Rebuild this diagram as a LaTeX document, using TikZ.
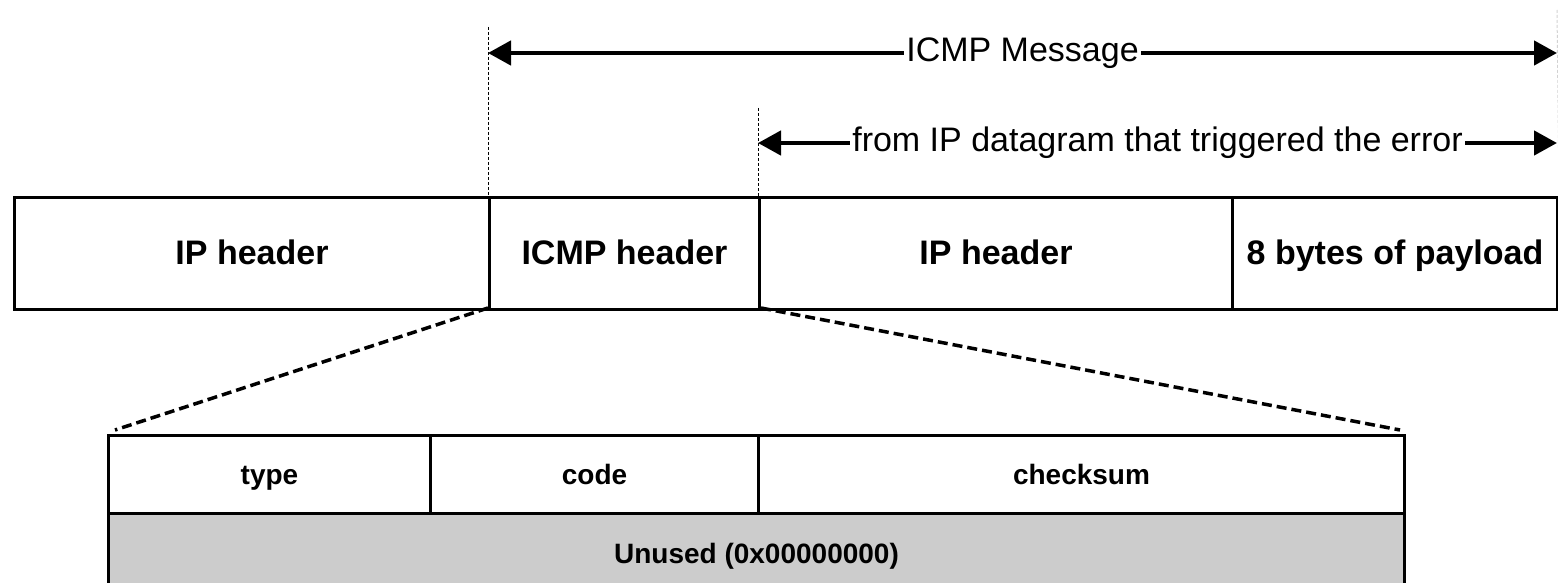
\documentclass[tikz,border=0pt]{standalone}
\usepackage{fontspec}
\setmainfont{Liberation Sans}
\usetikzlibrary{arrows.meta}
\definecolor{unusedgray}{HTML}{CCCCCC}
\tikzset{
  cell/.style={draw, line width=3pt, rectangle, inner sep=0pt, anchor=north west,
    text height=25pt, text depth=3pt,
    font=\bfseries\fontsize{34}{40}\selectfont},
  fieldcell/.style={draw, line width=3pt, rectangle, inner sep=0pt, anchor=north west,
    text height=21pt, text depth=1pt,
    font=\bfseries\fontsize{28}{34}\selectfont},
  marker/.style={line width=1pt, dash pattern=on 3pt off 2pt},
  zoomline/.style={line width=3.5pt, dash pattern=on 10pt off 5pt},
  dimarrow/.style={line width=4.5pt, {Triangle[length=23pt,width=24pt]}-{Triangle[length=23pt,width=24pt]}},
  dimlabel/.style={fill=white, inner sep=2pt, font=\fontsize{34}{40}\selectfont}
}
\begin{document}
\begin{tikzpicture}[x=1pt,y=-1pt]
\useasboundingbox (0,0) rectangle (1558,583);
\clip (0,0) rectangle (1558,583);
% top row
\node[cell, minimum width=475pt, minimum height=112pt] (iph1) at (13,196) {IP header};
\node[cell, minimum width=270pt, minimum height=112pt] (icmph) at (488,196) {ICMP header};
\node[cell, minimum width=473pt, minimum height=112pt] (iph2) at (758,196) {IP header};
\node[cell, minimum width=325pt, minimum height=112pt] (payload) at (1231,196) {8 bytes of payload};
% bottom table
\node[fieldcell, minimum width=322pt, minimum height=78pt] (type) at (107,434) {type};
\node[fieldcell, minimum width=328pt, minimum height=78pt] (code) at (429,434) {code};
\node[fieldcell, minimum width=646pt, minimum height=78pt] (checksum) at (757,434) {checksum};
\node[fieldcell, fill=unusedgray, minimum width=1296pt, minimum height=80pt] (unused) at (107,512) {Unused (0x00000000)};
% markers
\coordinate (m1top) at (488,27);
\coordinate (m2top) at (758,108);
\coordinate (m3top) at (1557,10);
\draw[marker] (m1top) -- (icmph.north west);
\draw[marker] (m2top) -- (iph2.north west);
\draw[marker, gray!35] (m3top) -- (payload.north east);
% dimension arrows
\coordinate (a1l) at (488,53);
\coordinate (a1r) at (1557,53);
\coordinate (a2l) at (758,143);
\coordinate (a2r) at (1557,143);
\draw[dimarrow] (a1l) -- node[dimlabel] (lab1) {ICMP Message} (a1r);
\draw[dimarrow] (a2l) -- node[dimlabel] (lab2) {from IP datagram that triggered the error} (a2r);
% zoom lines
\draw[zoomline] ([shift={(0,-3)}]icmph.south west) -- ([shift={(8,-4)}]type.north west);
\draw[zoomline] ([shift={(0,-3)}]icmph.south east) -- ([shift={(-6,-4)}]checksum.north east);
\end{tikzpicture}
\end{document}
